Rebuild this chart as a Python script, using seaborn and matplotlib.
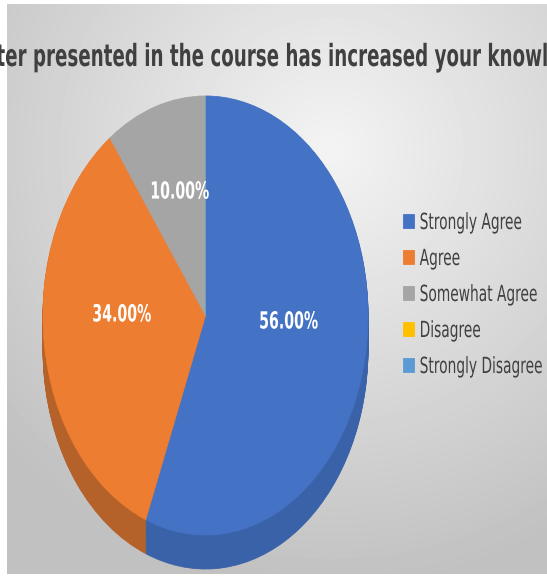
import numpy as np
import seaborn as sns
import matplotlib
matplotlib.use("Agg")
import matplotlib.pyplot as plt
from matplotlib.patheffects import AbstractPathEffect
from matplotlib.transforms import Affine2D

# data
title = "Matter presented in the course has increased your knowledge"
categories = ["Strongly Agree", "Agree", "Somewhat Agree", "Disagree", "Strongly Disagree"]
values = [56, 34, 10, 0, 0]
top_colors = ["#4472C4", "#ED7D31", "#A5A5A5", "#FFC000", "#5B9BD5"]
side_colors = ["#3A62A8", "#B5622A", "#7F7F7F", "#C89600", "#4A80B0"]

sns.set_theme(style="white")
plt.rcParams["font.family"] = ["DejaVu Sans"]


# the reference is squashed horizontally, so squash the glyphs the same way
class Squeeze(AbstractPathEffect):
    def __init__(self, sx=0.6, anchor="center"):
        super().__init__()
        self.sx = sx
        self.anchor = anchor

    def draw_path(self, renderer, gc, tpath, affine, rgbFace=None):
        ext = tpath.get_extents()
        x0 = (ext.x0 + ext.x1) / 2 if self.anchor == "center" else 0.0
        sq = Affine2D().translate(-x0, 0).scale(self.sx, 1).translate(x0, 0)
        renderer.draw_path(gc, tpath, sq + affine, rgbFace)


def seal(wedges):
    # edge in the fill colour so no seams show between slices
    for w in wedges:
        w.set_linewidth(0.6)
        w.set_edgecolor(w.get_facecolor())


W, H = 547, 578
fig = plt.figure(figsize=(W / 100, H / 100), dpi=100)
fig.patch.set_facecolor("white")

# background panel with a soft radial gradient
bg = fig.add_axes([7 / W, 4 / H, 540 / W, 570 / H])
xx, yy = np.meshgrid(np.arange(7, 547), np.arange(4, 574))
r = np.hypot(xx - 330, yy - 150)
shade = 0.955 - 0.2 * np.clip(r / 440, 0, 1)
bg.imshow(shade, cmap="gray", vmin=0, vmax=1, aspect="auto",
          extent=(0, 1, 0, 1), origin="upper")
bg.set_axis_off()

# pie axes (top face + extruded side)
depth = 34 / 219.5
ax = fig.add_axes([43 / W, 9 / H, 325 / W, 473 / H])
pal_top = sns.color_palette(top_colors)
pal_side = sns.color_palette(side_colors)
for off in np.linspace(depth, 0.005, 30):
    side, _ = ax.pie(values, colors=pal_side, startangle=90, counterclock=False,
                     center=(0, -off))
    seal(side)


def fmt(p):
    return "%.2f%%" % p if p > 0 else ""


wedges, _, autotexts = ax.pie(values, colors=pal_top, startangle=90, counterclock=False,
                              autopct=fmt, pctdistance=0.52,
                              textprops=dict(color="white", fontsize=17, fontweight="bold"))
seal(wedges)
for t in autotexts:
    x, y = t.get_position()
    t.set_position((x, y + 0.07))
    t.set_path_effects([Squeeze(0.6, "center")])
ax.set_aspect("auto")
ax.set_xlim(-1, 1)
ax.set_ylim(-1 - depth, 1)
ax.set_axis_off()

# title
t = fig.text(276 / W, (H - 66) / H, title, ha="center", va="baseline",
             fontsize=22, fontweight="bold", color="#404040")
t.set_path_effects([Squeeze(0.598, "center")])

# legend
leg = fig.legend(wedges, categories, loc="upper left",
                 bbox_to_anchor=(403 / W, (H - 213) / H), frameon=False,
                 fontsize=16, borderpad=0, borderaxespad=0,
                 handlelength=0.5, handleheight=0.55, handletextpad=0.25,
                 labelspacing=0.72)
for txt in leg.get_texts():
    txt.set_color("#404040")
    txt.set_path_effects([Squeeze(0.62, "left")])

fig.savefig("out.png", dpi=100)
